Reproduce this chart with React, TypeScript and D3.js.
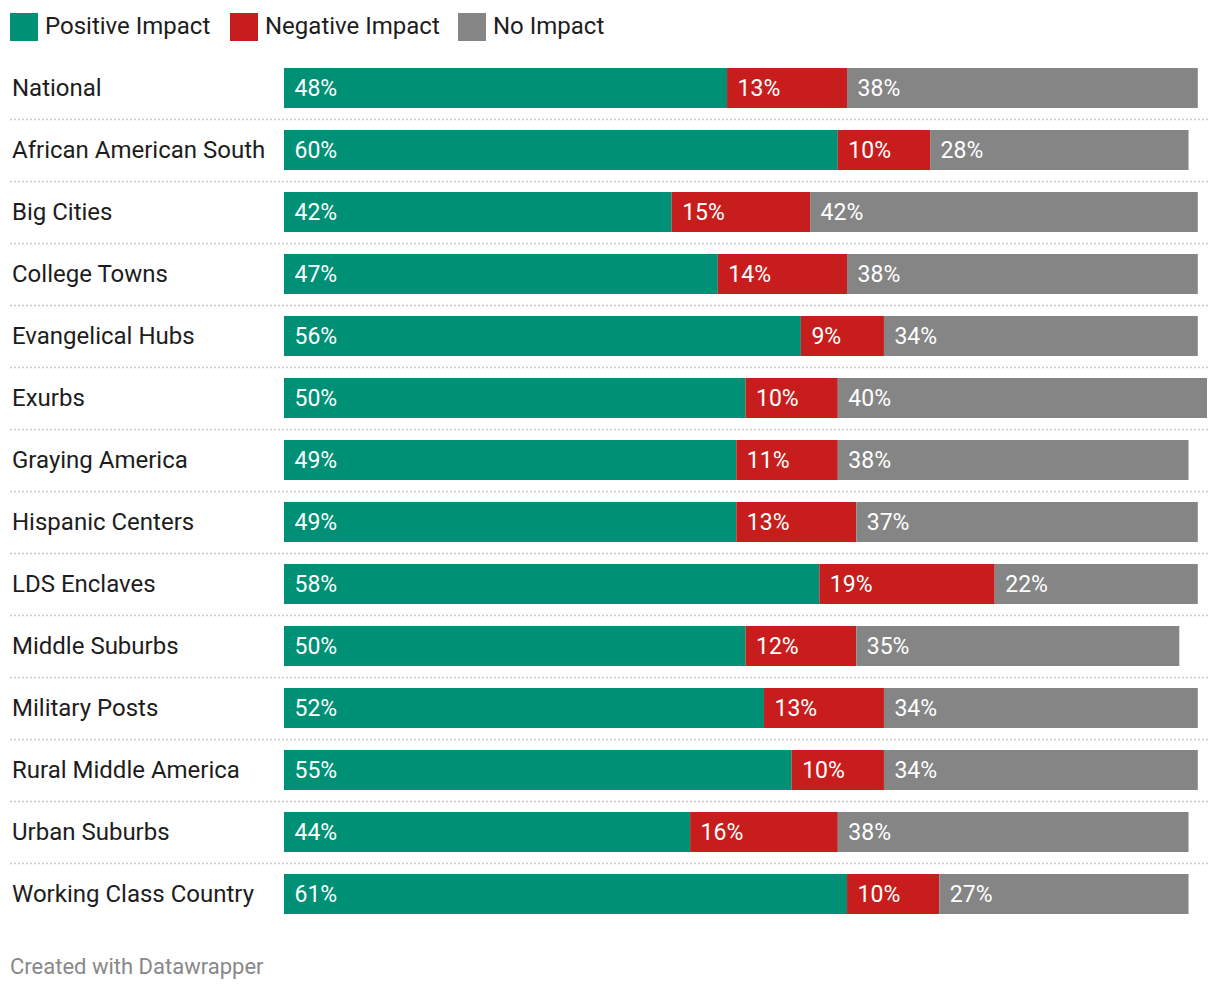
import React from "react";
import * as d3 from "d3";

const categories = [
  "National",
  "African American South",
  "Big Cities",
  "College Towns",
  "Evangelical Hubs",
  "Exurbs",
  "Graying America",
  "Hispanic Centers",
  "LDS Enclaves",
  "Middle Suburbs",
  "Military Posts",
  "Rural Middle America",
  "Urban Suburbs",
  "Working Class Country",
];
const positive = [48, 60, 42, 47, 56, 50, 49, 49, 58, 50, 52, 55, 44, 61];
const negative = [13, 10, 15, 14, 9, 10, 11, 13, 19, 12, 13, 10, 16, 10];
const noImpact = [38, 28, 42, 38, 34, 40, 38, 37, 22, 35, 34, 34, 38, 27];
const seriesNames = ["Positive Impact", "Negative Impact", "No Impact"];
const seriesColors = ["#009076", "#c71e1d", "#858585"];

const W = 1220;
const H = 992;

export default function App() {
  const x = d3.scaleLinear().domain([0, 100]).range([284, 1207]);
  const y = d3
    .scaleBand<string>()
    .domain(categories)
    .range([57, 57 + 62 * categories.length])
    .paddingInner(22 / 62)
    .paddingOuter(11 / 62);
  const rows = categories.map((c, i) => ({
    c,
    vals: [positive[i], negative[i], noImpact[i]],
  }));
  const font = "Roboto, 'Noto Sans', sans-serif";
  const legendX = [10, 230, 458];
  return (
    <div style={{ position: "absolute", left: 0, top: 0 }}>
      <svg width={W} height={H} style={{ display: "block", fontFamily: font }}>
        <rect width={W} height={H} fill="#fff" />
        {seriesNames.map((s, i) => (
          <g key={s}>
            <rect x={legendX[i]} y={13} width={28} height={28} fill={seriesColors[i]} />
            <text x={legendX[i] + 35} y={26} dy="0.35em" fontSize={24} fill="#1d1d1d">
              {s}
            </text>
          </g>
        ))}
        {rows.map((r, i) => {
          const yy = y(r.c)!;
          const bh = y.bandwidth();
          let acc = 0;
          return (
            <g key={r.c}>
              <text x={12} y={yy + bh / 2} dy="0.35em" fontSize={24} fill="#1d1d1d">
                {r.c}
              </text>
              {r.vals.map((v, j) => {
                const x0 = x(acc);
                acc += v;
                const x1 = x(acc);
                return (
                  <g key={j}>
                    <rect x={x0} y={yy} width={x1 - x0} height={bh} fill={seriesColors[j]} />
                    <text x={x0 + 10.5} y={yy + bh / 2} dy="0.35em" fontSize={23} fill="#fff">
                      {v}%
                    </text>
                  </g>
                );
              })}
              {i < categories.length - 1 && (
                <line
                  x1={10}
                  x2={1208}
                  y1={yy + bh + 11.5}
                  y2={yy + bh + 11.5}
                  stroke="#cccccc"
                  strokeWidth={1.5}
                  strokeDasharray="2,2"
                />
              )}
            </g>
          );
        })}
        <text x={10} y={966} dy="0.35em" fontSize={22} fill="#888">
          Created with Datawrapper
        </text>
      </svg>
    </div>
  );
}
